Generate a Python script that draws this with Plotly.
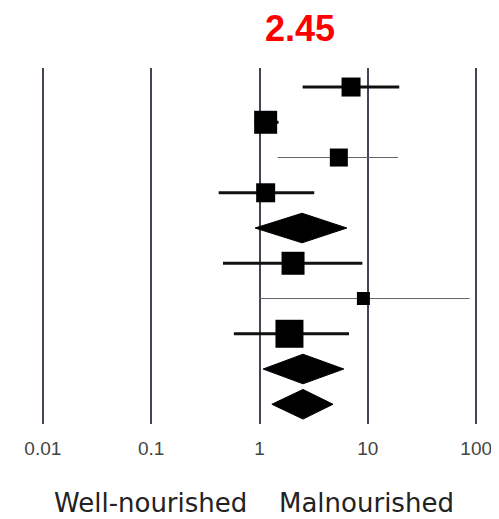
import plotly.graph_objects as go

# Study estimates (odds ratios) with 95% CI
study_rows = [1, 2, 3, 4, 6, 7, 8]
study_or = [7.0, 1.14, 5.4, 1.14, 2.04, 9.1, 1.89]
study_lo = [2.5, 0.9, 1.47, 0.42, 0.46, 1.0, 0.58]
study_hi = [19.5, 1.5, 19.0, 3.2, 8.9, 87.0, 6.7]
study_size = [19, 23, 18, 19, 23, 13, 28]
study_lw = [3, 3, 1, 3, 3, 1, 3]

# Pooled estimates (diamonds)
pool_rows = [5, 9, 10]
pool_or = [2.47, 2.52, 2.52]
pool_lo = [0.91, 1.08, 1.30]
pool_hi = [6.4, 6.0, 4.77]

tick_vals = [0.01, 0.1, 1, 10, 100]
tick_text = ["0.01", "0.1", "1", "10", "100"]

fig = go.Figure()

for r, o, lo, hi, s, lw in zip(study_rows, study_or, study_lo, study_hi, study_size, study_lw):
    col = "#111111" if lw > 1 else "#666666"
    fig.add_trace(go.Scatter(x=[lo, hi], y=[r, r], mode="lines",
                             line=dict(color=col, width=lw), showlegend=False, hoverinfo="skip"))
    fig.add_trace(go.Scatter(x=[o], y=[r], mode="markers",
                             marker=dict(symbol="square", size=s, color="#000000"),
                             showlegend=False))

h = 0.42
for r, o, lo, hi in zip(pool_rows, pool_or, pool_lo, pool_hi):
    fig.add_trace(go.Scatter(x=[lo, o, hi, o, lo], y=[r, r - h, r, r + h, r],
                             mode="lines", fill="toself", fillcolor="#000000",
                             line=dict(color="#000000", width=1), showlegend=False))

fig.update_layout(
    width=491, height=511,
    margin=dict(l=24, r=12, t=60, b=95),
    plot_bgcolor="white", paper_bgcolor="white",
    font=dict(family="DejaVu Sans, sans-serif"),
    xaxis=dict(type="log", range=[-2.1, 2.1], tickvals=tick_vals, ticktext=tick_text,
               showgrid=True, gridcolor="#444455", gridwidth=2, zeroline=False,
               showline=False, ticks="", ticklabelstandoff=11, automargin=False,
               tickfont=dict(size=19, color="#444444", family="Liberation Sans, Arial, sans-serif")),
    yaxis=dict(range=[10.56, 0.46], showgrid=False, zeroline=False, showticklabels=False,
               showline=False, automargin=False),
    annotations=[
        dict(text="<b>2.45</b>", x=0.589, y=1.112, xref="paper", yref="paper",
             showarrow=False, font=dict(size=36, color="#ff0000", family="Liberation Sans, Arial, sans-serif"),
             xanchor="center", yanchor="middle"),
        dict(text="Well-nourished", x=0.261, y=-0.266, xref="paper", yref="paper",
             showarrow=False, font=dict(size=26, color="#222222"), xanchor="center", yanchor="bottom",
             borderpad=0),
        dict(text="Malnourished", x=0.736, y=-0.266, xref="paper", yref="paper",
             showarrow=False, font=dict(size=26, color="#222222"), xanchor="center", yanchor="bottom",
             borderpad=0),
    ],
)

fig.write_html("out.html")
